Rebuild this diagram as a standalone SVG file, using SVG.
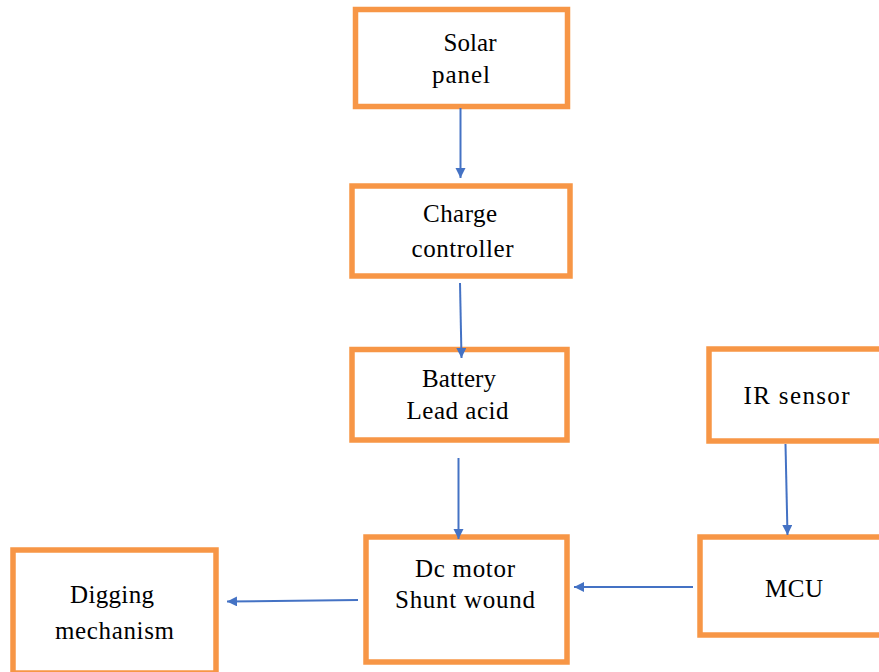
<svg xmlns="http://www.w3.org/2000/svg" width="879" height="672" viewBox="0 0 879 672">
  <style>
    .box { fill: #FFFFFF; stroke: #F79646; stroke-width: 5.5; }
    .lbl { font-family: "Liberation Serif", "Times New Roman", serif; font-size: 25px; fill: #000000; text-anchor: middle; }
    .conn { stroke: #4472C4; stroke-width: 2; fill: none; marker-end: url(#arrow); }
  </style>
  <defs>
    <marker id="arrow" markerUnits="userSpaceOnUse" markerWidth="11" markerHeight="11" refX="10" refY="5" orient="auto">
      <path d="M0,0 L10,5 L0,10 z" fill="#4472C4"/>
    </marker>
  </defs>
  <rect width="879" height="672" fill="#FFFFFF"/>

  <g id="solar-panel">
    <rect class="box" x="355.5" y="9.5" width="212" height="97"/>
    <text class="lbl" x="470" y="51" textLength="53" lengthAdjust="spacing">Solar</text>
    <text class="lbl" x="461" y="83" textLength="58" lengthAdjust="spacing">panel</text>
  </g>

  <g id="charge-controller">
    <rect class="box" x="352" y="186" width="218" height="90"/>
    <text class="lbl" x="460" y="222" textLength="74" lengthAdjust="spacing">Charge</text>
    <text class="lbl" x="462.5" y="257" textLength="102" lengthAdjust="spacing">controller</text>
  </g>

  <g id="battery">
    <rect class="box" x="352" y="349.5" width="215" height="90.5"/>
    <text class="lbl" x="459" y="387" textLength="74" lengthAdjust="spacing">Battery</text>
    <text class="lbl" x="457.5" y="419" textLength="102" lengthAdjust="spacing">Lead acid</text>
  </g>

  <g id="ir-sensor">
    <rect class="box" x="709" y="349" width="180" height="92"/>
    <text class="lbl" x="796.5" y="404" textLength="106" lengthAdjust="spacing">IR sensor</text>
  </g>

  <g id="dc-motor">
    <rect class="box" x="366" y="537" width="201" height="125"/>
    <text class="lbl" x="465" y="577" textLength="100" lengthAdjust="spacing">Dc motor</text>
    <text class="lbl" x="465" y="608" textLength="140" lengthAdjust="spacing">Shunt wound</text>
  </g>

  <g id="mcu">
    <rect class="box" x="700" y="537" width="189" height="98"/>
    <text class="lbl" x="794" y="597" textLength="58" lengthAdjust="spacing">MCU</text>
  </g>

  <g id="digging-mechanism">
    <rect class="box" x="13" y="550" width="203" height="123"/>
    <text class="lbl" x="112" y="603" textLength="84" lengthAdjust="spacing">Digging</text>
    <text class="lbl" x="114.5" y="639" textLength="119" lengthAdjust="spacing">mechanism</text>
  </g>

  <g id="connectors">
    <line class="conn" x1="460.5" y1="108" x2="460.5" y2="178"/>
    <line class="conn" x1="460" y1="283" x2="461.5" y2="358"/>
    <line class="conn" x1="458.5" y1="458" x2="458.5" y2="539"/>
    <line class="conn" x1="785.5" y1="444" x2="787.5" y2="535"/>
    <line class="conn" x1="693" y1="587" x2="574" y2="587"/>
    <line class="conn" x1="358" y1="600" x2="227" y2="601.5"/>
  </g>
</svg>
